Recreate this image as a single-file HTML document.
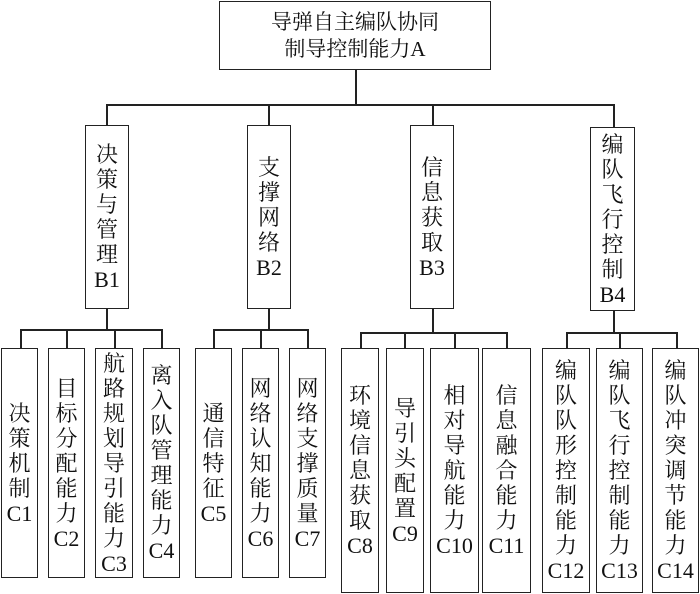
<!DOCTYPE html>
<html><head><meta charset="utf-8"><style>
body{margin:0;width:700px;height:594px;background:#fff;position:relative;overflow:hidden;font-family:"Liberation Serif","Noto Serif CJK SC",serif;color:#111}
.b{position:absolute;box-sizing:border-box;border:1.5px solid #222;display:flex;align-items:center;justify-content:center;text-align:center;font-size:22px;line-height:25px;background:#fff}
.l{position:absolute;background:#222}
.h{height:1.5px}.v{width:1.5px}
</style></head><body>
<div class="b" style="left:219px;top:1px;width:272px;height:69px;font-size:21px;line-height:27px">导弹自主编队协同<br>制导控制能力A</div>
<div class="l v" style="left:355px;top:69px;height:36px"></div>
<div class="l h" style="left:106px;top:104px;width:508px"></div>
<div class="l v" style="left:106px;top:104px;height:22px"></div>
<div class="l v" style="left:268px;top:104px;height:22px"></div>
<div class="l v" style="left:432px;top:104px;height:22px"></div>
<div class="l v" style="left:613px;top:104px;height:24px"></div>

<div class="b" style="left:85px;top:125px;width:44px;height:184px">决<br>策<br>与<br>管<br>理<br>B1</div>
<div class="b" style="left:247px;top:125px;width:44px;height:184px">支<br>撑<br>网<br>络<br>B2</div>
<div class="b" style="left:410px;top:125px;width:44px;height:184px">信<br>息<br>获<br>取<br>B3</div>
<div class="b" style="left:590px;top:127px;width:45px;height:184px">编<br>队<br>飞<br>行<br>控<br>制<br>B4</div>

<div class="l v" style="left:106px;top:308px;height:21px"></div>
<div class="l h" style="left:20px;top:329px;width:142px"></div>
<div class="l v" style="left:20px;top:329px;height:20px"></div>
<div class="l v" style="left:66px;top:329px;height:20px"></div>
<div class="l v" style="left:114px;top:329px;height:20px"></div>
<div class="l v" style="left:161px;top:329px;height:20px"></div>

<div class="l v" style="left:268px;top:308px;height:21px"></div>
<div class="l h" style="left:213px;top:329px;width:95px"></div>
<div class="l v" style="left:213px;top:329px;height:20px"></div>
<div class="l v" style="left:260px;top:329px;height:20px"></div>
<div class="l v" style="left:307px;top:329px;height:20px"></div>

<div class="l v" style="left:432px;top:308px;height:24px"></div>
<div class="l h" style="left:360px;top:332px;width:147px"></div>
<div class="l v" style="left:360px;top:332px;height:17px"></div>
<div class="l v" style="left:404px;top:332px;height:17px"></div>
<div class="l v" style="left:454px;top:332px;height:17px"></div>
<div class="l v" style="left:506px;top:332px;height:17px"></div>

<div class="l v" style="left:613px;top:310px;height:22px"></div>
<div class="l h" style="left:566px;top:332px;width:111px"></div>
<div class="l v" style="left:566px;top:332px;height:17px"></div>
<div class="l v" style="left:619px;top:332px;height:17px"></div>
<div class="l v" style="left:676px;top:332px;height:17px"></div>

<div class="b" style="left:1px;top:348px;width:37px;height:230px">决<br>策<br>机<br>制<br>C1</div>
<div class="b" style="left:48px;top:348px;width:37px;height:230px">目<br>标<br>分<br>配<br>能<br>力<br>C2</div>
<div class="b" style="left:95px;top:348px;width:38px;height:230px">航<br>路<br>规<br>划<br>导<br>引<br>能<br>力<br>C3</div>
<div class="b" style="left:143px;top:348px;width:37px;height:230px">离<br>入<br>队<br>管<br>理<br>能<br>力<br>C4</div>
<div class="b" style="left:195px;top:348px;width:37px;height:230px">通<br>信<br>特<br>征<br>C5</div>
<div class="b" style="left:242px;top:348px;width:37px;height:230px">网<br>络<br>认<br>知<br>能<br>力<br>C6</div>
<div class="b" style="left:289px;top:348px;width:37px;height:230px">网<br>络<br>支<br>撑<br>质<br>量<br>C7</div>

<div class="b" style="left:341px;top:348px;width:38px;height:245px">环<br>境<br>信<br>息<br>获<br>取<br>C8</div>
<div class="b" style="left:386px;top:348px;width:38px;height:245px">导<br>引<br>头<br>配<br>置<br>C9</div>
<div class="b" style="left:430px;top:348px;width:49px;height:245px">相<br>对<br>导<br>航<br>能<br>力<br>C10</div>
<div class="b" style="left:482px;top:348px;width:49px;height:245px">信<br>息<br>融<br>合<br>能<br>力<br>C11</div>
<div class="b" style="left:542px;top:348px;width:48px;height:245px">编<br>队<br>队<br>形<br>控<br>制<br>能<br>力<br>C12</div>
<div class="b" style="left:596px;top:348px;width:47px;height:245px">编<br>队<br>飞<br>行<br>控<br>制<br>能<br>力<br>C13</div>
<div class="b" style="left:652px;top:348px;width:47px;height:245px">编<br>队<br>冲<br>突<br>调<br>节<br>能<br>力<br>C14</div>
</body></html>
